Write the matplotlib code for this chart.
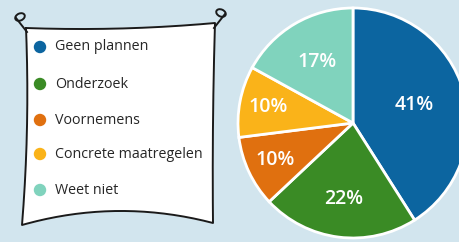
import numpy as np
import matplotlib.pyplot as plt
from matplotlib.patches import Ellipse

# Data
categories = ["Geen plannen", "Onderzoek", "Voornemens", "Concrete maatregelen", "Weet niet"]
shares = [41, 22, 10, 10, 17]
colors = ["#0c65a0", "#3a8b25", "#e0700f", "#fab319", "#80d3bd"]
label_dist = [0.55, 0.67, 0.75, 0.75, 0.62]

BG = "#d2e5ee"
INK = "#1a1a1a"

plt.rcParams["font.family"] = ["Open Sans", "DejaVu Sans"]

fig = plt.figure(figsize=(4.59, 2.42), dpi=100)
fig.patch.set_facecolor(BG)
ax = fig.add_axes([0, 0, 1, 1])
ax.set_xlim(0, 459)
ax.set_ylim(0, 242)
ax.set_aspect("equal")
ax.axis("off")

# --- pie ---
cx, cy, R = 353, 119, 115
wedges, _ = ax.pie(
    shares, colors=colors, startangle=90, counterclock=False,
    center=(cx, cy), radius=R,
    wedgeprops=dict(edgecolor="white", linewidth=2),
)
ax.set_xlim(0, 459)
ax.set_ylim(0, 242)

for w, val, d in zip(wedges, shares, label_dist):
    mid = np.deg2rad((w.theta1 + w.theta2) / 2)
    ax.text(cx + d * R * np.cos(mid), cy + d * R * np.sin(mid), f"{val}%",
            color="white", fontsize=14, fontweight="semibold",
            ha="center", va="center", zorder=6)

# --- hand-drawn legend "banner" ---
def curve(p0, p1, bulge, n=40):
    t = np.linspace(0, 1, n)
    x = p0[0] + (p1[0] - p0[0]) * t
    y = p0[1] + (p1[1] - p0[1]) * t
    dx, dy = p1[0] - p0[0], p1[1] - p0[1]
    L = np.hypot(dx, dy)
    nx, ny = -dy / L, dx / L
    s = bulge * 4 * t * (1 - t)
    return x + nx * s, y + ny * s

tl, tr, br, bl = (26, 214), (215, 219), (213, 19), (22, 17)
top = curve(tl, tr, -3)
right = curve(tr, br, -1)
bottom = curve(br, bl, -13)
left = curve(bl, tl, -3)
bx = np.concatenate([top[0], right[0], bottom[0], left[0]])
by = np.concatenate([top[1], right[1], bottom[1], left[1]])
ax.fill(bx, by, color="white", zorder=2)
ax.plot(bx, by, color=INK, lw=1.4, zorder=3, solid_capstyle="round")

# pins at top corners
for (px, py), sgn in [((20, 225), 1), ((221, 229), -1)]:
    ax.add_patch(Ellipse((px, py), 10, 7, angle=25 * sgn, fill=False,
                         edgecolor=INK, lw=1.4, zorder=4))
    ax.plot([px - 4 * sgn, px + 7 * sgn], [py - 1, py - 15], color=INK, lw=1.4, zorder=4)

# legend entries
row_y = [195, 158, 122, 88, 52]
for cat, col, yy in zip(categories, colors, row_y):
    ax.scatter([40], [yy], s=80, color=col, zorder=5, edgecolors="none")
    ax.text(55, yy, cat, fontsize=10.3, fontweight="medium", color="#262626",
            va="center", ha="left", zorder=5)

fig.savefig("out.png", dpi=100, facecolor=BG)
